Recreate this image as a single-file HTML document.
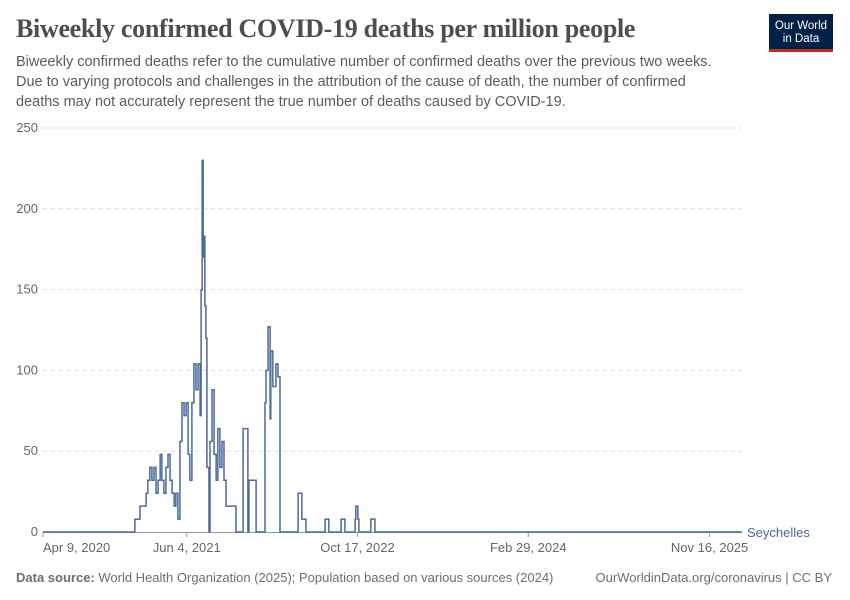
<!DOCTYPE html>
<html><head><meta charset="utf-8"><style>
body{margin:0;width:850px;height:600px;background:#fff;font-family:"Liberation Sans",sans-serif;overflow:hidden;position:relative}
.t{position:absolute;margin:0}
</style></head><body>
<h1 class="t" style="left:16px;top:14px;font-family:'Liberation Serif',serif;font-size:26px;font-weight:bold;color:#4e4e4e;letter-spacing:-0.3px">Biweekly confirmed COVID-19 deaths per million people</h1>
<div class="t" style="left:16px;top:52px;width:716px;font-size:14.5px;line-height:20px;color:#5b5b5b">Biweekly confirmed deaths refer to the cumulative number of confirmed deaths over the previous two weeks. Due to varying protocols and challenges in the attribution of the cause of death, the number of confirmed deaths may not accurately represent the true number of deaths caused by COVID-19.</div>
<div class="t" style="left:769px;top:14px;width:64px;height:38px;background:#002147;border-bottom:3px solid #ce261e;color:#fff;font-size:11.5px;line-height:13px;text-align:center;padding-top:6px;box-sizing:border-box">Our World<br>in Data</div>
<svg id="chart" class="t" style="left:0;top:0" width="850" height="600"></svg>
<div class="t" style="left:16px;top:570px;font-size:13px;color:#6e6e6e"><b>Data source:</b> World Health Organization (2025); Population based on various sources (2024)</div>
<div class="t" style="right:18px;top:570px;font-size:13px;color:#6e6e6e">OurWorldinData.org/coronavirus | CC BY</div>
<script>
const yTicks=[0,50,100,150,200,250];
const xTickDays=[0,421,921,1421,1952];
const xTickLabels=["Apr 9, 2020","Jun 4, 2021","Oct 17, 2022","Feb 29, 2024","Nov 16, 2025"];
const days=[0,269,284,302,307,313,319,325,331,337,343,348,354,360,366,372,378,384,389,395,401,407,413,419,425,430,436,442,448,454,460,463,466,469,471,474,477,480,486,489,495,501,507,512,518,524,530,536,548,565,586,600,603,612,624,650,653,659,665,667,673,682,688,694,700,747,758,770,826,837,873,884,914,916,922,925,960,972,2047];
const values=[0,8,16,24,32,40,32,40,24,32,48,32,24,40,48,32,24,16,24,8,56,80,72,80,48,32,80,104,88,104,72,150,230,170,183,140,120,40,0,56,88,48,32,64,40,56,32,16,16,0,64,0,32,32,0,80,100,127,70,112,90,104,96,0,0,24,8,0,8,0,8,0,8,16,8,0,8,0,0];
const NS="http://www.w3.org/2000/svg";
const svg=document.getElementById('chart');
const X=d=>43+d*0.3415, Y=v=>532-v*1.616;
function mk(tag,attrs){const e=document.createElementNS(NS,tag);for(const k in attrs)e.setAttribute(k,attrs[k]);svg.appendChild(e);return e;}
yTicks.forEach(v=>{
  if(v>0){const g=mk('line',{x1:43,x2:742,y1:Y(v),y2:Y(v),stroke:'#ddd','stroke-dasharray':'4,4'});
  
  }
  const t=mk('text',{x:38,y:Y(v)+4,'text-anchor':'end','font-size':13,fill:'#666','font-family':'Liberation Sans'});
  t.textContent=v;
  
  
});
const ax=mk('line',{x1:43,x2:742,y1:532.5,y2:532.5,stroke:'#999'});


xTickDays.forEach((d,i)=>{
  const tk=mk('line',{x1:X(d),x2:X(d),y1:532,y2:537,stroke:'#999'});
  
  
  const t=mk('text',{x:i==0?43:X(d),y:552,'text-anchor':i==0?'start':'middle','font-size':13,fill:'#666','font-family':'Liberation Sans'});
  t.textContent=xTickLabels[i];
  
  
});
let p='';
for(let i=0;i<days.length;i++){
  const x=X(days[i]);
  if(i==0)p+='M'+x+','+Y(values[i]);
  else p+='L'+x+','+Y(values[i-1])+'L'+x+','+Y(values[i]);
}
p+='L'+X(2047)+','+Y(values[values.length-1]);
const ln=mk('path',{d:p,fill:'none',stroke:'#4c6a9c','stroke-width':1.5});


const lb=mk('text',{x:747,y:537,'font-size':13,fill:'#4c6a9c','font-family':'Liberation Sans'});
lb.textContent='Seychelles';


</script>
</body></html>
